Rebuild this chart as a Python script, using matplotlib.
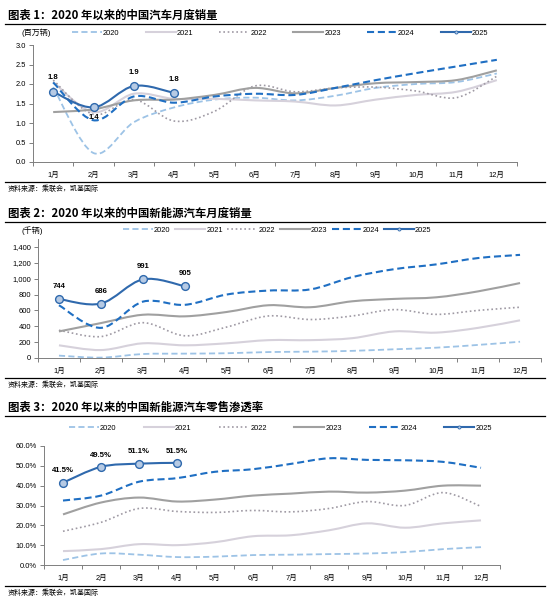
import numpy as np
import matplotlib
matplotlib.use("Agg")
import matplotlib.pyplot as plt
from matplotlib.path import Path
from matplotlib.patches import PathPatch
from matplotlib.lines import Line2D
from matplotlib.ticker import FuncFormatter

plt.rcParams['font.family'] = ['Liberation Sans', 'Noto Sans CJK SC', 'DejaVu Sans']

months = ['1月', '2月', '3月', '4月', '5月', '6月', '7月', '8月', '9月', '10月', '11月', '12月']
years = ['2020', '2021', '2022', '2023', '2024', '2025']

# chart 1: car sales (million units)
car_2020 = [1.92, 0.23, 1.02, 1.40, 1.60, 1.65, 1.58, 1.70, 1.90, 2.00, 2.05, 2.27]
car_2021 = [2.05, 1.28, 1.75, 1.62, 1.62, 1.58, 1.55, 1.45, 1.60, 1.72, 1.80, 2.10]
car_2022 = [2.10, 1.22, 1.60, 1.05, 1.30, 1.95, 1.80, 1.90, 1.92, 1.82, 1.65, 2.20]
car_2023 = [1.28, 1.35, 1.58, 1.60, 1.72, 1.90, 1.76, 1.90, 2.02, 2.05, 2.10, 2.35]
car_2024 = [2.04, 1.07, 1.68, 1.52, 1.68, 1.75, 1.72, 1.90, 2.10, 2.28, 2.45, 2.62]
car_2025 = [1.80, 1.40, 1.95, 1.77]
car_2025_labels = ['1.8', '1.4', '1.9', '1.8']

# chart 2: NEV sales (thousand units)
nev_2020 = [30, 5, 50, 55, 60, 75, 80, 90, 110, 130, 165, 205]
nev_2021 = [160, 100, 185, 160, 185, 225, 225, 250, 335, 320, 380, 475]
nev_2022 = [350, 270, 445, 280, 390, 530, 485, 530, 610, 550, 600, 640]
nev_2023 = [335, 440, 545, 525, 580, 665, 640, 715, 745, 765, 840, 945]
nev_2024 = [665, 380, 710, 670, 800, 850, 865, 1020, 1120, 1180, 1260, 1300]
nev_2025 = [744, 686, 991, 905]
nev_2025_labels = ['744', '686', '991', '905']

# chart 3: NEV retail penetration (%)
pen_2020 = [2.5, 5.8, 5.2, 4.0, 4.2, 5.0, 5.2, 5.5, 5.8, 6.5, 8.0, 9.0]
pen_2021 = [7.0, 8.0, 10.5, 10.0, 11.5, 14.5, 15.0, 17.5, 21.0, 18.8, 21.0, 22.5]
pen_2022 = [17.0, 21.5, 28.5, 27.0, 26.5, 27.5, 26.8, 28.5, 32.0, 30.0, 36.5, 29.5]
pen_2023 = [25.5, 31.5, 34.0, 32.0, 33.0, 35.0, 36.0, 37.0, 36.5, 37.5, 40.0, 40.0]
pen_2024 = [32.5, 35.0, 42.0, 43.8, 47.0, 48.3, 51.0, 53.8, 53.0, 52.8, 52.0, 49.0]
pen_2025 = [41.5, 49.5, 51.1, 51.5]
pen_2025_labels = ['41.5%', '49.5%', '51.1%', '51.5%']

W, H = 550, 608
FS = 5.4
fig = plt.figure(figsize=(W / 100, H / 100), dpi=100)

styles = [
    dict(color='#9DC3E6', lw=1.3, ls=(0, (3.4, 1.8))),
    dict(color='#D6D1DB', lw=1.5, ls='-'),
    dict(color='#9F9AA4', lw=1.2, ls=(0, (1, 1.6))),
    dict(color='#A0A0A0', lw=1.5, ls='-'),
    dict(color='#1F6FC3', lw=1.5, ls=(0, (3.4, 1.8))),
    dict(color='#2F69AD', lw=1.5, ls='-'),
]
marker_face = '#B6CAE4'


def smooth_path(ys):
    # excel-like smoothed line, drawn as bezier segments
    xs = list(range(len(ys)))
    n = len(xs)
    verts = [(xs[0], ys[0])]
    codes = [Path.MOVETO]
    for i in range(n - 1):
        x0, y0 = xs[max(i - 1, 0)], ys[max(i - 1, 0)]
        x1, y1 = xs[i], ys[i]
        x2, y2 = xs[i + 1], ys[i + 1]
        x3, y3 = xs[min(i + 2, n - 1)], ys[min(i + 2, n - 1)]
        verts += [(x1 + (x2 - x0) / 6, y1 + (y2 - y0) / 6),
                  (x2 - (x3 - x1) / 6, y2 - (y3 - y1) / 6),
                  (x2, y2)]
        codes += [Path.CURVE4] * 3
    return Path(verts, codes)


def px_axes(left, right, top, bottom):
    return fig.add_axes([left / W, 1 - bottom / H, (right - left) / W, (bottom - top) / H])


def header(title, y_title, y_rule):
    fig.text(8 / W, 1 - y_title / H, title, fontsize=8.2, fontweight='bold',
             family=['Noto Sans CJK SC', 'DejaVu Sans'], va='center', ha='left')
    fig.add_artist(Line2D([5 / W, 545 / W], [1 - y_rule / H] * 2, color='black', lw=0.9))


def footer(y_rule, y_text):
    fig.add_artist(Line2D([5 / W, 545 / W], [1 - y_rule / H] * 2, color='black', lw=0.9))
    fig.text(8 / W, 1 - y_text / H, '资料来源：乘联会，凯基国际', fontsize=5.0, style='italic',
             family=['Noto Sans CJK SC', 'DejaVu Sans'], va='center', ha='left')


def draw_panel(ax, series, labels25, ylim, yticks, fmt, label_offsets):
    for vals, st, yr in zip(series, styles, years):
        z = 5 if yr == '2025' else (4 if yr == '2024' else 3)
        patch = PathPatch(smooth_path(vals), fill=False, edgecolor=st['color'], lw=st['lw'],
                          linestyle=st['ls'], capstyle='butt', zorder=z)
        ax.add_patch(patch)
    v25 = series[-1]
    ax.plot(range(len(v25)), v25, 'o', ms=5.6, mfc=marker_face, mec=styles[-1]['color'],
            mew=1.0, ls='none', zorder=6)
    for i, (v, t) in enumerate(zip(v25, labels25)):
        ax.annotate(t, (i, v), xytext=(0, label_offsets[i]), textcoords='offset points',
                    ha='center', va='center', fontsize=5.6, fontweight='bold', zorder=7)
    ax.set_xlim(-0.5, 11.5)
    ax.set_ylim(*ylim)
    ax.set_yticks(yticks)
    ax.yaxis.set_major_formatter(FuncFormatter(fmt))
    ax.set_xticks(np.arange(-0.5, 12, 1))
    ax.set_xticklabels([])
    ax.set_xticks(np.arange(12), minor=True)
    ax.set_xticklabels(months, minor=True)
    ax.tick_params(axis='x', which='major', length=3, width=0.7, color='#7F7F7F', direction='out')
    ax.tick_params(axis='x', which='minor', length=0, labelsize=FS, pad=7)
    ax.tick_params(axis='y', length=3, width=0.7, color='#7F7F7F', labelsize=FS, pad=2)
    for s in ['top', 'right']:
        ax.spines[s].set_visible(False)
    for s in ['left', 'bottom']:
        ax.spines[s].set_color('#7F7F7F')
        ax.spines[s].set_linewidth(0.7)
    ax.patch.set_alpha(0)


def add_legend(ax, x_left, y_center, colspace):
    handles = []
    for st, yr in zip(styles, years):
        if yr == '2025':
            h = Line2D([], [], color=st['color'], lw=st['lw'], ls=st['ls'], marker='o', ms=2.2,
                       mfc=marker_face, mec=st['color'], mew=0.6)
        else:
            h = Line2D([], [], color=st['color'], lw=st['lw'], ls=st['ls'])
        handles.append(h)
    ax.legend(handles, years, ncol=6, loc='center left',
              bbox_to_anchor=(x_left / W, 1 - y_center / H), bbox_transform=fig.transFigure,
              frameon=False, fontsize=FS, handlelength=4.0, handletextpad=0.15,
              columnspacing=colspace, borderpad=0, borderaxespad=0)


# ---------------- chart 1 ----------------
header('图表 1：2020 年以来的中国汽车月度销量', 15, 24)
ax1 = px_axes(33, 517, 45, 162)
draw_panel(ax1, [car_2020, car_2021, car_2022, car_2023, car_2024, car_2025], car_2025_labels,
           (0, 3.0), np.arange(0, 3.01, 0.5), lambda v, p: f'{v:.1f}', [10, -7, 10, 10])
add_legend(ax1, 72, 33, 3.47)
fig.text(22 / W, 1 - 33 / H, '(百万辆)', fontsize=5.8, va='center', ha='left')
footer(182, 189)

# ---------------- chart 2 ----------------
header('图表 2：2020 年以来的中国新能源汽车月度销量', 213, 222)
ax2 = px_axes(38, 541, 239, 358)
draw_panel(ax2, [nev_2020, nev_2021, nev_2022, nev_2023, nev_2024, nev_2025], nev_2025_labels,
           (0, 1500), np.arange(0, 1401, 200), lambda v, p: f'{v:,.0f}', [9, 9, 9, 9])
add_legend(ax2, 123, 230, 0.6)
fig.text(22 / W, 1 - 231 / H, '(千辆)', fontsize=5.8, va='center', ha='left')
footer(378, 385)

# ---------------- chart 3 ----------------
header('图表 3：2020 年以来的中国新能源汽车零售渗透率', 407, 416)
ax3 = px_axes(44, 500, 446, 565)
draw_panel(ax3, [pen_2020, pen_2021, pen_2022, pen_2023, pen_2024, pen_2025], pen_2025_labels,
           (0, 60), np.arange(0, 60.1, 10), lambda v, p: f'{v:.1f}%', [8.5, 8.5, 8.5, 8.5])
add_legend(ax3, 69, 428, 3.65)
footer(586, 593)

plt.savefig('out.png', dpi=100)
plt.close()
